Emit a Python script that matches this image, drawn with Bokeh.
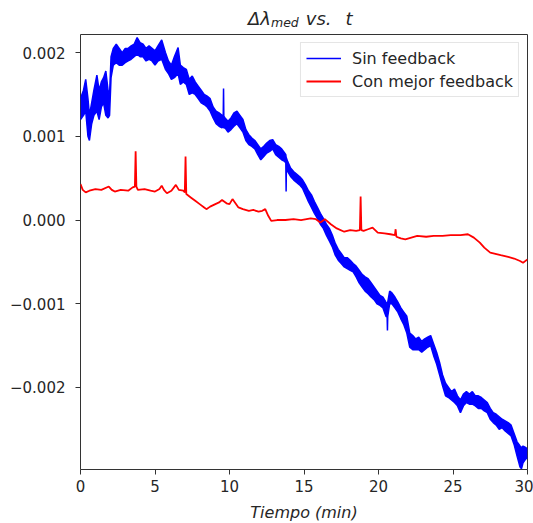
from bokeh.plotting import figure
from bokeh.layouts import column
from bokeh.models import Range1d, FixedTicker, Legend, LegendItem, Div
from bokeh.embed import file_html
from bokeh.resources import INLINE

# ---- data (units of 1e-3 for the y values) ----
blue_t = [0.0, 0.2, 0.35, 0.5, 0.6, 0.75, 0.9, 1.1, 1.25, 1.4, 1.55, 1.7, 1.85, 1.95,
          2.05, 2.2, 2.4, 2.6, 2.8, 3.0, 3.2, 3.4, 3.6, 3.8, 4.0, 4.2, 4.4, 4.6, 4.8,
          5.0, 5.2, 5.45, 5.7, 5.9, 6.1, 6.3, 6.55, 6.7, 6.9, 7.1, 7.3, 7.5, 7.7, 7.9,
          8.1, 8.3, 8.5, 8.7, 8.9, 9.1, 9.3, 9.5, 9.58, 9.6, 9.62, 9.7, 9.9, 10.1, 10.3,
          10.5, 10.7, 10.9, 11.1, 11.3, 11.5, 11.7, 11.9, 12.1, 12.3, 12.5, 12.7, 12.9,
          13.1, 13.3, 13.5, 13.7, 13.78, 13.8, 13.82, 13.9, 14.1, 14.3, 14.5, 14.7, 14.9,
          15.1, 15.3, 15.5, 15.7, 15.9, 16.1, 16.3, 16.5, 16.7, 16.9, 17.1, 17.3, 17.5,
          17.7, 17.9, 18.1, 18.3, 18.5, 18.7, 18.9, 19.1, 19.3, 19.5, 19.7, 19.9, 20.1,
          20.3, 20.5, 20.58, 20.6, 20.62, 20.75, 20.9, 21.1, 21.3, 21.5, 21.7, 21.9,
          22.1, 22.3, 22.5, 22.7, 22.9, 23.1, 23.3, 23.5, 23.7, 23.9, 24.1, 24.3, 24.5,
          24.7, 24.9, 25.1, 25.3, 25.5, 25.7, 25.9, 26.1, 26.3, 26.5, 26.7, 26.9, 27.1,
          27.3, 27.5, 27.7, 27.9, 28.1, 28.3, 28.5, 28.7, 28.9, 29.1, 29.3, 29.5, 29.6,
          29.7, 29.9, 30.0]
blue_hi_milli = [1.45, 1.55, 1.68, 1.45, 1.25, 1.40, 1.55, 1.73, 1.55, 1.65, 1.70, 1.78, 1.55, 1.50,
                 1.95, 2.05, 2.10, 2.05, 2.00, 2.05, 2.05, 2.08, 2.10, 2.18, 2.12, 2.10, 2.05, 2.08, 2.05,
                 2.02, 2.08, 2.15, 2.00, 1.90, 1.85, 1.95, 2.06, 1.85, 1.82, 1.80, 1.68, 1.72, 1.65, 1.60,
                 1.55, 1.50, 1.48, 1.45, 1.35, 1.30, 1.28, 1.25, 1.25, 1.57, 1.24, 1.22, 1.18, 1.22, 1.28,
                 1.30, 1.25, 1.20, 1.08, 1.02, 0.98, 0.95, 0.90, 0.85, 0.88, 0.92, 0.95, 0.96,
                 0.90, 0.88, 0.85, 0.80, 0.78, 0.75, 0.74, 0.70, 0.62, 0.58, 0.55, 0.52, 0.48,
                 0.42, 0.35, 0.30, 0.22, 0.15, 0.08, 0.02, -0.05, -0.10, -0.18, -0.28, -0.35, -0.40,
                 -0.45, -0.45, -0.48, -0.52, -0.55, -0.60, -0.65, -0.68, -0.70, -0.75, -0.80, -0.85, -0.90,
                 -0.92, -0.98, -1.00, -1.00, -0.98, -0.85, -0.87, -0.92, -0.98, -1.05, -1.10, -1.15,
                 -1.35, -1.38, -1.42, -1.40, -1.45, -1.42, -1.40, -1.38, -1.48, -1.58, -1.70, -1.85, -1.95,
                 -2.00, -2.05, -2.02, -2.10, -2.15, -2.08, -2.05, -2.08, -2.05, -2.10, -2.10, -2.12, -2.15,
                 -2.18, -2.25, -2.30, -2.32, -2.35, -2.38, -2.40, -2.42, -2.45, -2.55, -2.65, -2.70, -2.72,
                 -2.70, -2.72, -2.75]
blue_lo_milli = [1.20, 1.25, 1.30, 1.00, 0.95, 1.15, 1.25, 1.30, 1.20, 1.35, 1.40, 1.25, 1.22, 1.25,
                 1.70, 1.85, 1.88, 1.85, 1.85, 1.88, 1.90, 1.92, 1.95, 1.98, 1.95, 1.95, 1.90, 1.92, 1.90,
                 1.85, 1.90, 1.92, 1.80, 1.75, 1.68, 1.70, 1.75, 1.62, 1.65, 1.62, 1.50, 1.52, 1.50, 1.45,
                 1.40, 1.38, 1.35, 1.30, 1.22, 1.15, 1.12, 1.10, 1.12, 1.12, 1.10, 1.10, 1.05, 1.08, 1.12,
                 1.15, 1.10, 1.05, 0.95, 0.90, 0.88, 0.85, 0.78, 0.72, 0.76, 0.80, 0.82, 0.85,
                 0.78, 0.75, 0.72, 0.70, 0.68, 0.34, 0.66, 0.58, 0.52, 0.48, 0.45, 0.42, 0.38,
                 0.30, 0.22, 0.15, 0.08, 0.02, -0.05, -0.10, -0.18, -0.25, -0.32, -0.42, -0.48, -0.52,
                 -0.56, -0.58, -0.60, -0.62, -0.68, -0.75, -0.80, -0.85, -0.88, -0.92, -0.95, -1.00, -1.02,
                 -1.05, -1.15, -1.16, -1.32, -1.15, -1.00, -1.00, -1.05, -1.10, -1.18, -1.25, -1.35,
                 -1.52, -1.55, -1.55, -1.55, -1.58, -1.55, -1.52, -1.50, -1.62, -1.72, -1.85, -1.98, -2.10,
                 -2.12, -2.15, -2.18, -2.22, -2.30, -2.22, -2.18, -2.20, -2.20, -2.22, -2.25, -2.25, -2.28,
                 -2.30, -2.38, -2.42, -2.45, -2.50, -2.48, -2.52, -2.55, -2.58, -2.68, -2.82, -2.95, -2.97,
                 -2.90, -2.85, -2.85]

red_t = [0.0, 0.15, 0.35, 0.6, 1.0, 1.4, 1.9, 2.1, 2.3, 2.7, 3.2, 3.5, 3.65, 3.7, 3.75, 3.85,
         4.3, 4.7, 5.0, 5.3, 5.45, 5.6, 5.8, 6.1, 6.4, 6.6, 6.9, 7.0, 7.05, 7.1, 7.4, 7.7,
         8.0, 8.3, 8.45, 8.7, 9.05, 9.3, 9.5, 9.8, 10.0, 10.2, 10.4, 10.6, 10.9, 11.3, 11.6,
         11.95, 12.2, 12.4, 12.6, 12.8, 13.2, 13.75, 14.3, 14.8, 15.45, 15.8, 16.1, 16.4, 16.8,
         17.2, 17.7, 18.1, 18.5, 18.75, 18.8, 18.85, 19.0, 19.3, 19.6, 19.95, 20.4, 20.8,
         21.1, 21.15, 21.2, 21.5, 21.8, 22.2, 22.6, 23.2, 23.7, 24.3, 24.85, 25.5, 26.0,
         26.4, 26.8, 27.1, 27.5, 28.2, 28.7, 29.1, 29.5, 29.7, 30.0]
red_v_milli = [0.43, 0.36, 0.33, 0.35, 0.37, 0.36, 0.40, 0.36, 0.34, 0.36, 0.35, 0.39, 0.40, 0.82, 0.40, 0.36,
               0.37, 0.35, 0.34, 0.37, 0.41, 0.36, 0.32, 0.35, 0.42, 0.36, 0.35, 0.33, 0.76, 0.31, 0.27, 0.23,
               0.19, 0.15, 0.13, 0.16, 0.19, 0.21, 0.24, 0.20, 0.19, 0.25, 0.20, 0.15, 0.13, 0.11, 0.12,
               0.10, 0.11, 0.13, 0.05, -0.01, 0.00, 0.00, 0.01, 0.00, 0.02, 0.01, -0.03, 0.01, -0.05,
               -0.10, -0.14, -0.12, -0.13, -0.12, 0.28, -0.12, -0.13, -0.11, -0.09, -0.15, -0.16, -0.17,
               -0.18, -0.11, -0.20, -0.22, -0.23, -0.21, -0.19, -0.20, -0.19, -0.19, -0.18, -0.18, -0.17,
               -0.21, -0.27, -0.33, -0.39, -0.42, -0.44, -0.46, -0.49, -0.51, -0.47]

x_ticks = [0, 5, 10, 15, 20, 25, 30]
y_ticks = [-0.002, -0.001, 0.0, 0.001, 0.002]
y_tick_labels = ["\u22120.002", "\u22120.001", "0.000", "0.001", "0.002"]
series_names = ["Sin feedback", "Con mejor feedback"]
x_label = "Tiempo (min)"

scale = 1e-3
blue_hi = [v * scale for v in blue_hi_milli]
blue_lo = [v * scale for v in blue_lo_milli]
red_v = [v * scale for v in red_v_milli]

FONT = "DejaVu Sans"
TXT = "#262626"

# title  Δλ_med vs. t  as real HTML text (subscript + italics)
title_html = (
    "<div style=\"font-family:'DejaVu Sans'; font-style:italic; font-size:18px; color:#262626;"
    " line-height:18px; white-space:nowrap; padding-left:248px; padding-top:10px;\">"
    "\u0394\u03bb<span style=\"font-size:12.5px; position:relative; top:2px;\">med</span>"
    "<span style=\"margin-left:7px;\">vs.</span>"
    "<span style=\"margin-left:14px;\">t</span></div>"
)
title_div = Div(text=title_html, width=533, height=30, margin=0)

p = figure(frame_width=447, frame_height=435, title_location=None,
           min_border_left=80, min_border_right=6, min_border_top=4, min_border_bottom=52,
           x_range=Range1d(0, 30), y_range=Range1d(-0.00298, 0.002216),
           output_backend="svg", toolbar_location=None, margin=0)
p.background_fill_color = "white"
p.border_fill_color = "white"
p.grid.visible = False
p.outline_line_color = "#333333"
p.outline_line_width = 1
p.outline_line_alpha = 1

# blue noisy band
p.varea(x=blue_t, y1=blue_lo, y2=blue_hi, fill_color="#0000ff", fill_alpha=1)
blue_line = p.line(blue_t, blue_hi, line_color="#0000ff", line_width=1.5)
p.line(blue_t, blue_lo, line_color="#0000ff", line_width=1.5)
red_line = p.line(red_t, red_v, line_color="#ff0000", line_width=1.8)

for ax in (p.xaxis[0], p.yaxis[0]):
    ax.axis_line_color = None
    ax.major_tick_out = 5
    ax.major_tick_in = 0
    ax.major_tick_line_color = "#333333"
    ax.minor_tick_line_color = None
    ax.major_label_text_font = FONT
    ax.major_label_text_font_size = "15px"
    ax.major_label_text_color = TXT

p.xaxis[0].ticker = FixedTicker(ticks=x_ticks)
p.xaxis[0].major_label_standoff = 5
p.xaxis[0].axis_label = x_label
p.xaxis[0].axis_label_text_font = FONT
p.xaxis[0].axis_label_text_font_style = "italic"
p.xaxis[0].axis_label_text_font_size = "16px"
p.xaxis[0].axis_label_text_color = TXT
p.xaxis[0].axis_label_standoff = 8

p.yaxis[0].ticker = FixedTicker(ticks=y_ticks)
p.yaxis[0].major_label_overrides = {t: lab for t, lab in zip(y_ticks, y_tick_labels)}
p.yaxis[0].major_label_standoff = 10

legend = Legend(items=[LegendItem(label=series_names[0], renderers=[blue_line]),
                       LegendItem(label=series_names[1], renderers=[red_line])],
                location="top_right", margin=8, padding=5, spacing=3,
                glyph_width=35, glyph_height=20, label_height=20, label_standoff=11,
                label_text_font=FONT, label_text_font_size="16px", label_text_color=TXT,
                border_line_color="#cccccc", border_line_width=1,
                background_fill_color="white", background_fill_alpha=0.8)
p.add_layout(legend, "center")

layout = column(title_div, p, spacing=0, margin=0)
open("out.html", "w").write(file_html(layout, INLINE))
